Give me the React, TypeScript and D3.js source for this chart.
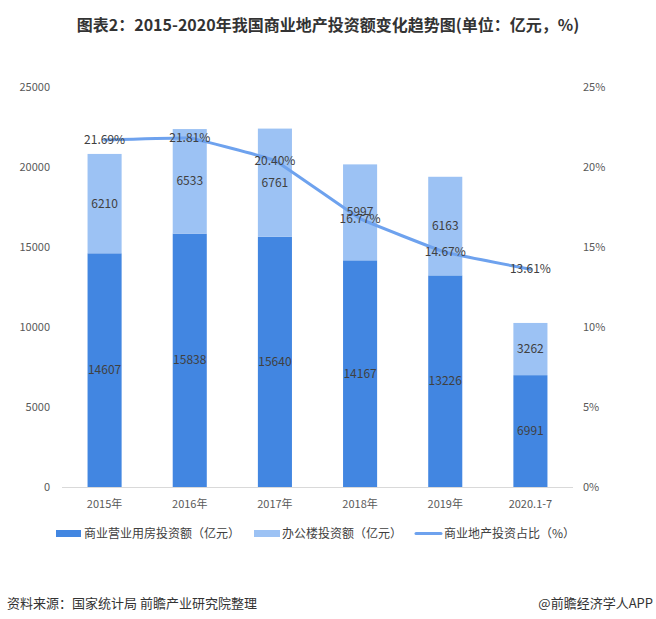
import React from "react";
import * as d3 from "d3";

const categories = ["2015年", "2016年", "2017年", "2018年", "2019年", "2020.1-7"];
const commercialValues = [14607, 15838, 15640, 14167, 13226, 6991];
const officeValues = [6210, 6533, 6761, 5997, 6163, 3262];
const shareValues = [21.69, 21.81, 20.4, 16.77, 14.67, 13.61];
const leftTicks = [0, 5000, 10000, 15000, 20000, 25000];
const rightTicks = [0, 5, 10, 15, 20, 25];
const legendLabels = ["商业营业用房投资额（亿元）", "办公楼投资额（亿元）", "商业地产投资占比（%）"];

const W = 656;
const H = 619;
const FONT = "'Noto Sans CJK SC', 'Microsoft YaHei', sans-serif";
const DARK = "#4286E1";
const LIGHT = "#9CC2F4";
const LINE = "#6EA2EE";
const TEXT = "#404040";

export default function App() {
  const x = d3.scaleBand<string>().domain(categories).range([62, 573]).paddingInner(0.6).paddingOuter(0.3);
  const y = d3.scaleLinear().domain([0, 25000]).range([487, 87]);
  const yr = d3.scaleLinear().domain([0, 25]).range([487, 87]);
  const bw = x.bandwidth();
  const cx = (c: string) => (x(c) as number) + bw / 2;

  const pts: [number, number][] = categories.map((c, i) => [cx(c), yr(shareValues[i])]);
  const linePath = d3.line().curve(d3.curveCardinal.tension(0.8))(pts) || "";

  return (
    <svg width={W} height={H} style={{ position: "absolute", left: 0, top: 0, background: "#fff" }} fontFamily={FONT}>
      <rect x={0} y={0} width={W} height={H} fill="#fff" />
      <text x={328} y={31} textAnchor="middle" fontSize={16} fontWeight="bold" fill="#333">
        图表2：2015-2020年我国商业地产投资额变化趋势图(单位：亿元，%)
      </text>

      {leftTicks.map((t) => (
        <text key={"l" + t} x={50} y={y(t) + 4} textAnchor="end" fontSize={11} fill="#595959">
          {t}
        </text>
      ))}
      {rightTicks.map((t) => (
        <text key={"r" + t} x={583} y={yr(t) + 4} textAnchor="start" fontSize={11} fill="#595959">
          {t + "%"}
        </text>
      ))}

      {categories.map((c, i) => {
        const x0 = x(c) as number;
        const a = commercialValues[i];
        const b = officeValues[i];
        return (
          <g key={c}>
            <rect x={x0} y={y(a)} width={bw} height={y(0) - y(a)} fill={DARK} />
            <rect x={x0} y={y(a + b)} width={bw} height={y(a) - y(a + b)} fill={LIGHT} />
          </g>
        );
      })}

      <line x1={62} x2={573} y1={487.5} y2={487.5} stroke="#D9D9D9" strokeWidth={1} />

      {categories.map((c) => (
        <text key={"x" + c} x={cx(c)} y={508} textAnchor="middle" fontSize={11} fill="#595959">
          {c}
        </text>
      ))}

      <path d={linePath} fill="none" stroke={LINE} strokeWidth={3} strokeLinecap="round" />

      {categories.map((c, i) => {
        const a = commercialValues[i];
        const b = officeValues[i];
        return (
          <g key={"v" + c} fontSize={12} fill={TEXT} textAnchor="middle">
            <text x={cx(c)} y={(y(0) + y(a)) / 2 + 4}>{a}</text>
            <text x={cx(c)} y={(y(a) + y(a + b)) / 2 + 4}>{b}</text>
          </g>
        );
      })}
      {categories.map((c, i) => (
        <text key={"p" + c} x={cx(c)} y={yr(shareValues[i]) + 4} textAnchor="middle" fontSize={12} fill={TEXT}>
          {shareValues[i].toFixed(2) + "%"}
        </text>
      ))}

      <g fontSize={12} fill={TEXT}>
        <rect x={56} y={530} width={25} height={7} fill={DARK} />
        <text x={84} y={538}>{legendLabels[0]}</text>
        <rect x={254} y={530} width={26} height={7} fill={LIGHT} />
        <text x={282} y={538}>{legendLabels[1]}</text>
        <line x1={416} x2={441} y1={533.5} y2={533.5} stroke={LINE} strokeWidth={3} strokeLinecap="round" />
        <text x={444} y={538}>{legendLabels[2]}</text>
      </g>

      <text x={7} y={608} fontSize={13} fill="#333">资料来源：国家统计局 前瞻产业研究院整理</text>
      <text x={653} y={608} fontSize={13} fill="#333" textAnchor="end">@前瞻经济学人APP</text>
    </svg>
  );
}
